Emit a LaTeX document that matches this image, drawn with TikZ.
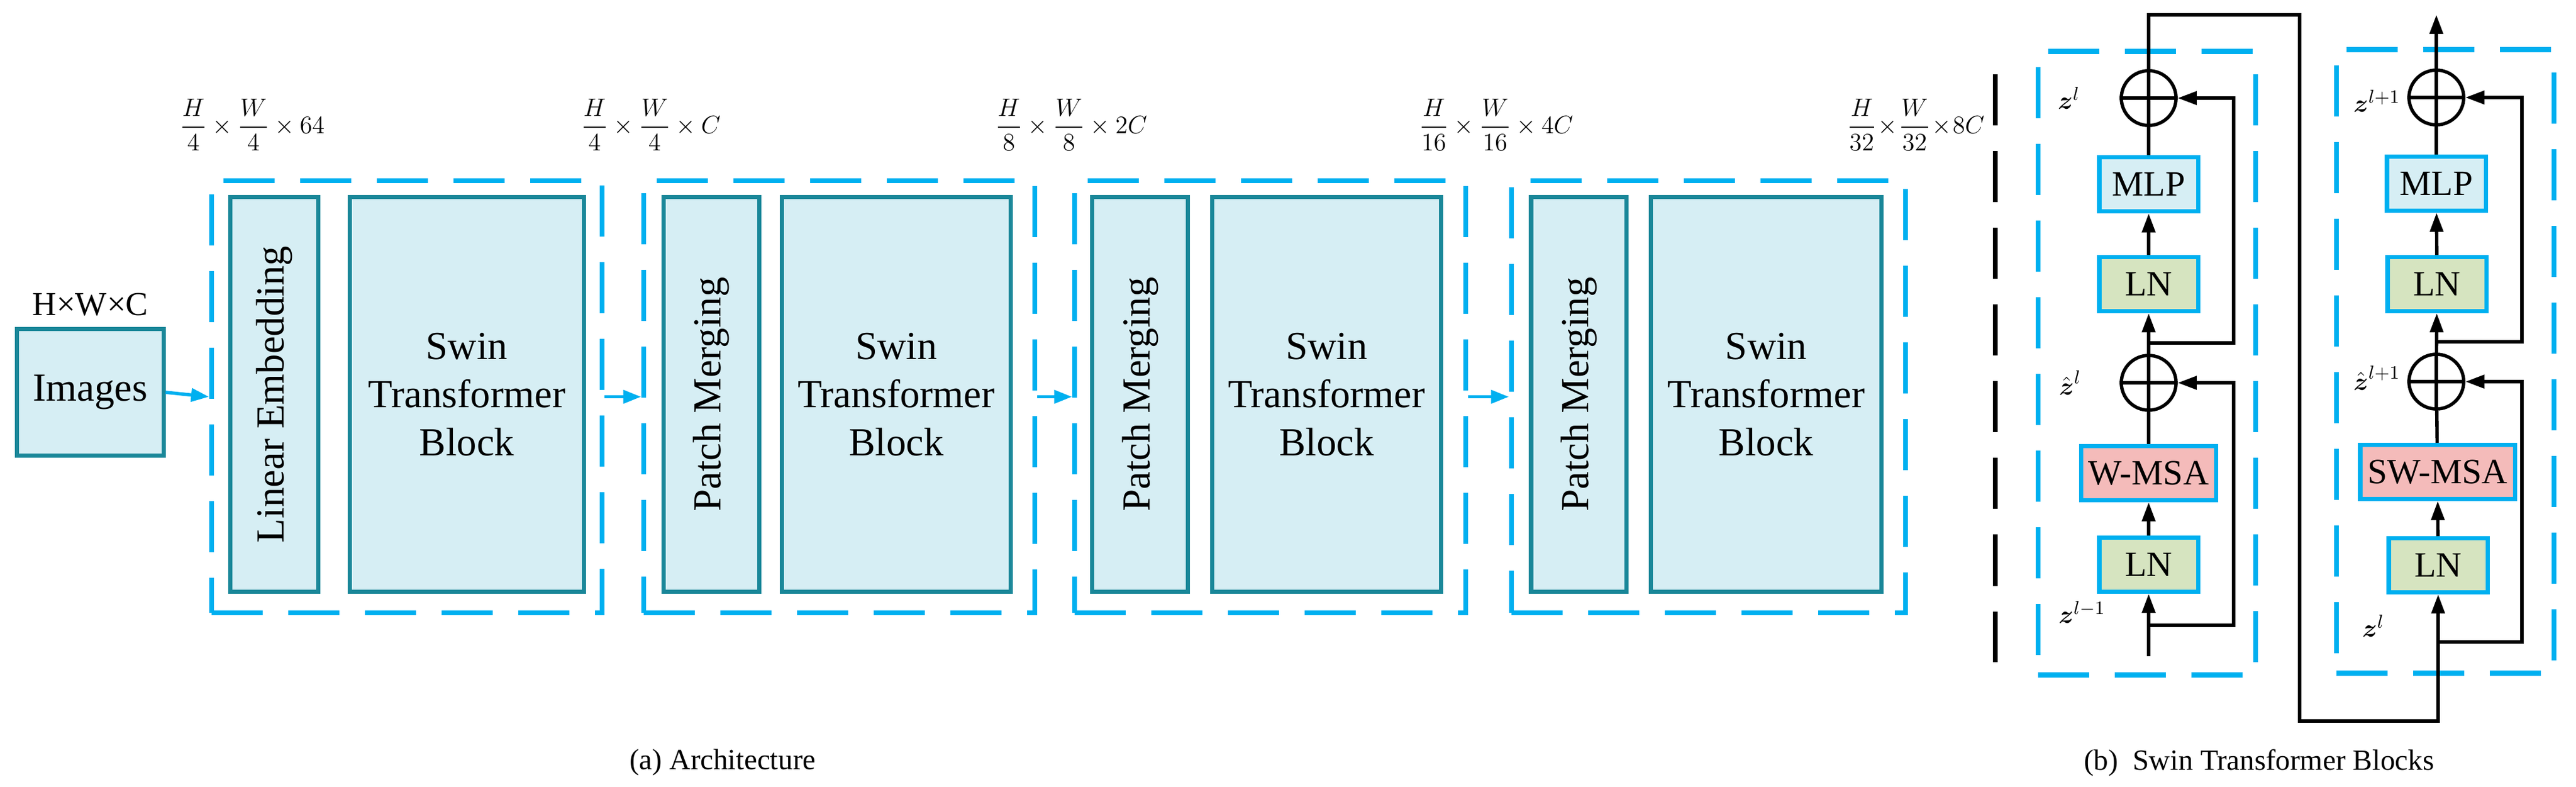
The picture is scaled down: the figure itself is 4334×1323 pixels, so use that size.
\documentclass[tikz,border=0pt]{standalone}
\usepackage{fontspec}
\usepackage{amsmath}
\setmainfont{Liberation Serif}
\usetikzlibrary{arrows.meta}
\definecolor{fillb}{HTML}{D6EEF4}
\definecolor{edge}{HTML}{1A8799}
\definecolor{cy}{HTML}{00B0F0}
\definecolor{lng}{HTML}{D6E4C0}
\definecolor{msa}{HTML}{F4BBBA}
\begin{document}
\begin{tikzpicture}[x=0.01cm,y=-0.01cm,
  blk/.style={draw=edge,fill=fillb,line width=2pt,font=\fontsize{19}{23}\selectfont,align=center},
  dbox/.style={draw=cy,line width=2.4pt,dash pattern=on 0.86cm off 0.43cm},
  carr/.style={draw=cy,line width=1.6pt,-{Triangle[length=0.3cm,width=0.22cm]}},
  sb/.style={draw=cy,line width=2pt,font=\fontsize{17}{20}\selectfont,minimum height=0.91cm},
  barr/.style={line width=1.6pt,-{Triangle[length=0.32cm,width=0.22cm]}},
  dim/.style={font=\fontsize{12}{14}\selectfont},
  zl/.style={font=\fontsize{13}{15}\selectfont}]
\useasboundingbox (0,0) rectangle (4334,1323);
% left part
\node[blk,minimum width=2.46cm,minimum height=2.13cm] (img) at (152,660) {Images};
\node[font=\fontsize{16}{19}\selectfont] (hwc) at (152,512) {H×W×C};
\node[dbox,minimum width=6.57cm,minimum height=7.27cm] (d1) at (684.5,667.5) {};
\node[dbox,minimum width=6.58cm,minimum height=7.27cm] (d2) at (1412,667.5) {};
\node[dbox,minimum width=6.58cm,minimum height=7.27cm] (d3) at (2137,667.5) {};
\node[dbox,minimum width=6.63cm,minimum height=7.27cm] (d4) at (2874.5,667.5) {};
\node[blk,rotate=90,minimum width=6.63cm,minimum height=1.47cm] (le) at (461.5,663.5) {Linear Embedding};
\node[blk,minimum width=3.93cm,minimum height=6.63cm] (s1) at (785.5,663.5) {Swin\\Transformer\\Block};
\node[blk,rotate=90,minimum width=6.63cm,minimum height=1.6cm] (p2) at (1197,663.5) {Patch Merging};
\node[blk,minimum width=3.84cm,minimum height=6.63cm] (s2) at (1508,663.5) {Swin\\Transformer\\Block};
\node[blk,rotate=90,minimum width=6.63cm,minimum height=1.6cm] (p3) at (1918,663.5) {Patch Merging};
\node[blk,minimum width=3.84cm,minimum height=6.63cm] (s3) at (2232,663.5) {Swin\\Transformer\\Block};
\node[blk,rotate=90,minimum width=6.63cm,minimum height=1.6cm] (p4) at (2656,663.5) {Patch Merging};
\node[blk,minimum width=3.87cm,minimum height=6.63cm] (s4) at (2971.5,663.5) {Swin\\Transformer\\Block};
\draw[carr] (img.east) -- (d1.west);
\draw[carr] (d1.east) -- (d2.west);
\draw[carr] (d2.east) -- (d3.west);
\draw[carr] (d3.east) -- (d4.west);
\node[dim,anchor=west] (t1) at (290,210) {$\dfrac{H}{4}\times\dfrac{W}{4}\times 64$};
\node[dim,anchor=west] (t2) at (965,210) {$\dfrac{H}{4}\times\dfrac{W}{4}\times C$};
\node[dim,anchor=west] (t3) at (1662,210) {$\dfrac{H}{8}\times\dfrac{W}{8}\times 2C$};
\node[dim,anchor=west] (t4) at (2375,210) {$\dfrac{H}{16}\times\dfrac{W}{16}\times 4C$};
\node[dim,anchor=west] (t5) at (3095,210) {$\dfrac{H}{32}\!\times\!\dfrac{W}{32}\!\times\! 8C$};
\node[font=\fontsize{14}{17}\selectfont] (ca) at (1216,1283) {(a) Architecture};
% right part
\draw[line width=2.4pt,dash pattern=on 0.86cm off 0.43cm] (3357,125) coordinate (bl1) -- (3357,1114) coordinate (bl2);
\node[dbox,minimum width=3.66cm,minimum height=10.48cm] (da) at (3612,611) {};
\node[dbox,minimum width=3.66cm,minimum height=10.48cm] (db) at (4114,608) {};
% left column
\node[draw,line width=1.6pt,circle,minimum size=0.92cm,inner sep=0] (o1) at (3615,165) {};
\node[draw,line width=1.6pt,circle,minimum size=0.92cm,inner sep=0] (o2) at (3615,644) {};
\draw[line width=1.6pt] (o1.west)--(o1.east) (o1.north)--(o1.south) (o2.west)--(o2.east) (o2.north)--(o2.south);
\node[sb,fill=fillb,minimum width=1.66cm] (mlp1) at (3615,310) {MLP};
\node[sb,fill=lng,minimum width=1.66cm] (ln1) at (3615,478) {LN};
\node[sb,fill=msa,minimum width=2.27cm] (w1) at (3615,796) {W-MSA};
\node[sb,fill=lng,minimum width=1.66cm] (ln2) at (3615,950) {LN};
\coordinate (in1) at (3615,1104);
\coordinate (b1) at (3615,1052);
\coordinate (b2) at (3615,577);
\draw[barr] (in1) -- (ln2);
\draw[barr] (ln2) -- (w1);
\draw[line width=1.6pt] (w1) -- (o2);
\draw[barr] (o2) -- (ln1);
\draw[barr] (ln1) -- (mlp1);
\draw[line width=1.6pt] (mlp1) -- (o1);
\draw[barr] (b1) -| (3758,644) -- (o2.east);
\draw[barr] (b2) -| (3758,165) -- (o1.east);
\node[zl] (z1) at (3481,165) {$\boldsymbol{z}^{l}$};
\node[zl] (z2) at (3483,644) {$\hat{\boldsymbol{z}}^{l}$};
\node[zl] (z3) at (3503,1030) {$\boldsymbol{z}^{l-1}$};
% right column
\node[draw,line width=1.6pt,circle,minimum size=0.92cm,inner sep=0] (o3) at (4099,164) {};
\node[draw,line width=1.6pt,circle,minimum size=0.92cm,inner sep=0] (o4) at (4099,642) {};
\draw[line width=1.6pt] (o3.west)--(o3.east) (o3.north)--(o3.south) (o4.west)--(o4.east) (o4.north)--(o4.south);
\node[sb,fill=fillb,minimum width=1.66cm] (mlp2) at (4099,309) {MLP};
\node[sb,fill=lng,minimum width=1.66cm] (ln3) at (4100,478) {LN};
\node[sb,fill=msa,minimum width=2.6cm] (w2) at (4101,794) {SW-MSA};
\node[sb,fill=lng,minimum width=1.66cm] (ln4) at (4102,951) {LN};
\coordinate (out) at (4099,25);
\coordinate (b3) at (4102,1080);
\coordinate (b4) at (4099,575);
\draw[barr] (o1.north) |- (3869,25) |- (4102,1213) -- (ln4);
\draw[barr] (ln4) -- (w2);
\draw[line width=1.6pt] (w2) -- (o4);
\draw[barr] (o4) -- (ln3);
\draw[barr] (ln3) -- (mlp2);
\draw[line width=1.6pt] (mlp2) -- (o3);
\draw[barr] (o3.north) -- (out);
\draw[barr] (b3) -| (4243,642) -- (o4.east);
\draw[barr] (b4) -| (4243,164) -- (o3.east);
\node[zl] (z4) at (3999,170) {$\boldsymbol{z}^{l+1}$};
\node[zl] (z5) at (3999,636) {$\hat{\boldsymbol{z}}^{l+1}$};
\node[zl] (z6) at (3993,1053) {$\boldsymbol{z}^{l}$};
\node[font=\fontsize{14}{17}\selectfont] (cb) at (3801,1283) {(b)\ \ Swin Transformer Blocks};
\end{tikzpicture}
\end{document}
